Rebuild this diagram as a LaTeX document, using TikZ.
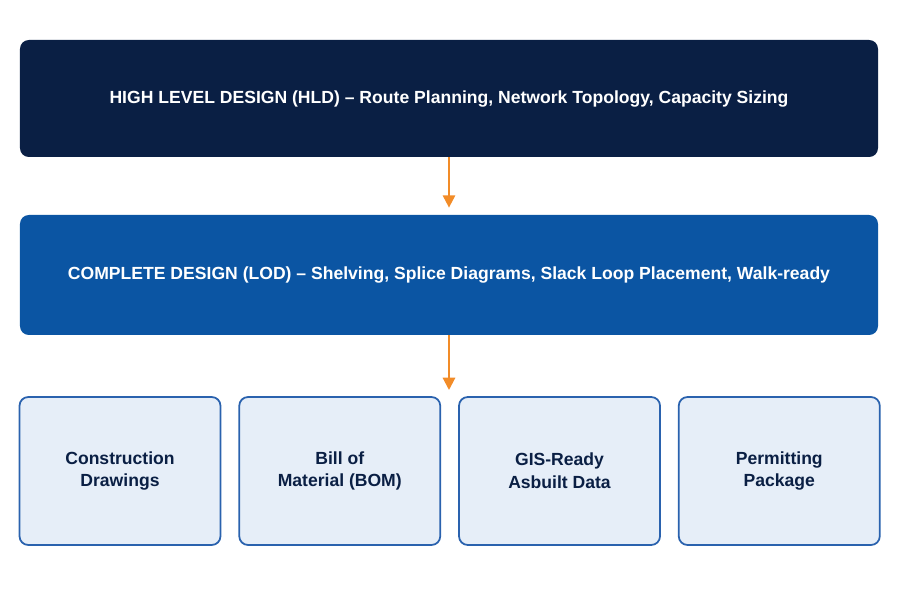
\documentclass[tikz,border=0pt]{standalone}
\usepackage{fontspec}
\setmainfont{Liberation Sans}
\usetikzlibrary{positioning,arrows.meta}
\definecolor{navy}{HTML}{0A1F44}
\definecolor{midblue}{HTML}{0B55A3}
\definecolor{paleblue}{HTML}{E6EEF8}
\definecolor{edgeblue}{HTML}{2A62AE}
\definecolor{flowor}{HTML}{F28C28}
\tikzset{
  band/.style={rounded corners=5pt,minimum width=17.16cm,text=white,font=\bfseries\fontsize{10}{12}\selectfont},
  output/.style={rounded corners=5pt,draw=edgeblue,line width=1pt,fill=paleblue,text=navy,
    minimum width=4.02cm,minimum height=2.96cm,align=center,font=\bfseries\fontsize{10}{13}\selectfont},
  flow/.style={-{Triangle[length=7pt,width=7pt]},flowor,line width=1.2pt,shorten >=4pt}
}
\begin{document}
\begin{tikzpicture}
	\useasboundingbox (0,0) rectangle (18,12);
	\node[band,fill=navy,minimum height=2.34cm] (hld) at (8.98,10.03)
	{HIGH LEVEL DESIGN (HLD) -- Route Planning, Network Topology, Capacity Sizing};
	\node[band,fill=midblue,minimum height=2.4cm] (lod) at (8.98,6.5)
	{COMPLETE DESIGN (LOD) -- Shelving, Splice Diagrams, Slack Loop Placement, Walk-ready};

	\node[output] (drw) at (2.4,2.58) {Construction\\Drawings};
	\node[output,right=0.34cm of drw] (bom) {Bill of\\Material (BOM)};
	\node[output,right=0.34cm of bom] (gis) {GIS-Ready\\Asbuilt Data};
	\node[output,right=0.34cm of gis] (prm) {Permitting\\Package};

	\draw[flow] (hld.south) -- (lod.north);
	\coordinate (outtop) at (8.98,4.2);
	\draw[flow,shorten >=0pt] (lod.south) -- (outtop);
\end{tikzpicture}
\end{document}
